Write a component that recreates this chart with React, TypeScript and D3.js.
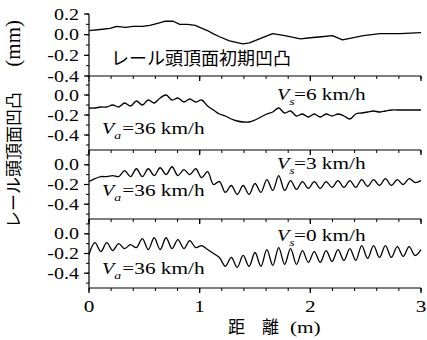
import * as d3 from 'd3'

// distance axis (m)
const xTicks = [0, 1, 2, 3]
const xMinorStep = 0.2

// panel 1: initial rail head irregularity, read as (x, value) pairs
const initialX = [0, 0.10, 0.19, 0.25, 0.33, 0.40, 0.48, 0.55, 0.62, 0.69, 0.76, 0.82, 0.89, 0.96, 1.00, 1.07, 1.12, 1.18, 1.27, 1.39, 1.45, 1.54, 1.66, 1.77, 1.91, 2.00, 2.10, 2.20, 2.29, 2.38, 2.48, 2.63, 2.81, 3.00]
const initialY = [0.04, 0.05, 0.06, 0.08, 0.07, 0.08, 0.08, 0.09, 0.11, 0.13, 0.13, 0.10, 0.10, 0.09, 0.07, 0.04, 0.01, -0.02, -0.06, -0.09, -0.08, -0.04, 0.01, -0.01, -0.04, -0.03, -0.02, -0.01, -0.05, -0.03, -0.01, 0.01, 0.01, 0.02]

// panels 2-4 are read every 3/56 m (one point per half wave)
const SAMPLE_STEP = 3 / 56

const vs6 = [-0.13, -0.13, -0.12, -0.12, -0.10, -0.12, -0.08, -0.11, -0.06, -0.10, -0.05, -0.08, -0.03, 0.00, -0.05, -0.03, -0.07, -0.04, -0.07, -0.05,
  -0.11, -0.15, -0.19, -0.21, -0.24, -0.26, -0.27, -0.27, -0.25, -0.22, -0.19, -0.17, -0.13, -0.18, -0.16, -0.21, -0.19, -0.22, -0.19, -0.22,
  -0.19, -0.21, -0.19, -0.21, -0.24, -0.19, -0.18, -0.17, -0.16, -0.17, -0.16, -0.15, -0.15, -0.15, -0.15, -0.15, -0.15]

const vs3 = [-0.17, -0.14, -0.12, -0.12, -0.11, -0.12, -0.06, -0.12, -0.04, -0.12, -0.04, -0.11, -0.03, -0.10, -0.02, -0.11, -0.05, -0.10, -0.04, -0.13,
  -0.07, -0.20, -0.17, -0.28, -0.21, -0.30, -0.21, -0.30, -0.19, -0.28, -0.15, -0.26, -0.11, -0.26, -0.16, -0.25, -0.17, -0.24, -0.17, -0.24,
  -0.17, -0.23, -0.16, -0.23, -0.16, -0.23, -0.15, -0.22, -0.15, -0.21, -0.14, -0.21, -0.15, -0.20, -0.14, -0.18, -0.16]

const vs0 = [-0.21, -0.09, -0.18, -0.09, -0.17, -0.10, -0.15, -0.11, -0.14, -0.05, -0.16, -0.04, -0.16, -0.04, -0.15, -0.06, -0.15, -0.07, -0.14, -0.12,
  -0.16, -0.20, -0.24, -0.33, -0.24, -0.34, -0.22, -0.33, -0.19, -0.33, -0.16, -0.32, -0.14, -0.31, -0.15, -0.31, -0.17, -0.29, -0.18, -0.29,
  -0.17, -0.28, -0.16, -0.27, -0.15, -0.27, -0.12, -0.25, -0.12, -0.24, -0.12, -0.24, -0.13, -0.23, -0.13, -0.22, -0.16]

const yTicksTop = [0.2, 0.0, -0.2, -0.4]
const yTicks = [0.0, -0.2, -0.4]

const SERIF = 'Liberation Serif, DejaVu Serif, serif'
const CJK = 'Noto Sans CJK JP, sans-serif'
const SX = 1.25 // the scan is stretched sideways

const x = d3.scaleLinear().domain([0, 3]).range([89, 421])

interface Panel {
  xs: number[]
  ys: number[]
  domain: [number, number]
  range: [number, number]
  ticks: number[]
  smooth: boolean
  vs?: string
  vsY?: number
  vaY?: number
}

const sampleX = (ys: number[]) => ys.map((_, i) => i * SAMPLE_STEP)

const panels: Panel[] = [
  { xs: initialX, ys: initialY, domain: [-0.4, 0.2], range: [76, 14], ticks: yTicksTop, smooth: false },
  { xs: sampleX(vs6), ys: vs6, domain: [-0.55, 0.15], range: [150, 80], ticks: yTicks, smooth: true, vs: '6', vsY: 100, vaY: 134 },
  { xs: sampleX(vs3), ys: vs3, domain: [-0.55, 0.15], range: [219, 150], ticks: yTicks, smooth: true, vs: '3', vsY: 169, vaY: 196 },
  { xs: sampleX(vs0), ys: vs0, domain: [-0.55, 0.15], range: [288, 219], ticks: yTicks, smooth: true, vs: '0', vsY: 241, vaY: 274 },
]

function SText({ x, y, size, anchor = 'start', children }: any) {
  return (
    <g transform={`translate(${x},${y}) scale(${SX},1)`}>
      <text fontFamily={SERIF} fontSize={size} textAnchor={anchor} fill="#000">
        {children}
      </text>
    </g>
  )
}

function SpeedLabel({ x0, y0, sub, value }: { x0: number; y0: number; sub: string; value: string }) {
  return (
    <SText x={x0} y={y0} size={17}>
      <tspan fontStyle="italic" fontSize={16}>V</tspan>
      <tspan fontStyle="italic" fontSize={11} dy={5}>{sub}</tspan>
      <tspan dy={-5} dx={sub === 'a' ? 1 : -0.5}>{`=${value} km/h`}</tspan>
    </SText>
  )
}

function PanelView({ p }: { p: Panel }) {
  const y = d3.scaleLinear().domain(p.domain).range(p.range)
  const line = d3.line<number>()
    .x((_, i) => x(p.xs[i]))
    .y(d => y(d))
    .curve(p.smooth ? d3.curveCatmullRom.alpha(0.5) : d3.curveLinear)
  const minor = d3.range(Math.ceil(p.domain[0] * 10 - 1e-6), Math.floor(p.domain[1] * 10 + 1e-6) + 1).map(v => v / 10)
  const xMinor = d3.range(0, 3 + 1e-6, xMinorStep)
  const yb = p.range[0]
  return (
    <g>
      {/* left axis */}
      <line x1={x(0)} x2={x(0)} y1={p.range[1]} y2={yb} stroke="#000" strokeWidth={1.2} />
      {minor.map(v => (
        <line key={'m' + v} x1={x(0) - 3} x2={x(0)} y1={y(v)} y2={y(v)} stroke="#000" strokeWidth={1} />
      ))}
      {p.ticks.map(v => (
        <g key={'t' + v}>
          <line x1={x(0) - 5} x2={x(0)} y1={y(v)} y2={y(v)} stroke="#000" strokeWidth={1.2} />
          <SText x={79} y={y(v) + 5.5} size={16} anchor="end">{v.toFixed(1)}</SText>
        </g>
      ))}
      {/* bottom axis */}
      <line x1={x(0)} x2={x(3)} y1={yb} y2={yb} stroke="#000" strokeWidth={1.2} />
      {xMinor.map(v => (
        <line key={'xm' + v} x1={x(v)} x2={x(v)} y1={yb} y2={yb + 3} stroke="#000" strokeWidth={1} />
      ))}
      {xTicks.map(v => (
        <line key={'xt' + v} x1={x(v)} x2={x(v)} y1={yb} y2={yb + 5} stroke="#000" strokeWidth={1.3} />
      ))}
      <path d={line(p.ys) ?? ''} fill="none" stroke="#000" strokeWidth={1.3} strokeLinejoin="round" />
      {p.vs !== undefined && (
        <>
          <SpeedLabel x0={277} y0={p.vsY!} sub="s" value={p.vs} />
          <SpeedLabel x0={102} y0={p.vaY!} sub="a" value="36" />
        </>
      )}
    </g>
  )
}

export default function App() {
  const bottom = panels[panels.length - 1].range[0]
  return (
    <svg width={427} height={340} style={{ position: 'fixed', left: 0, top: 0, background: '#fff' }}>
      <rect width={427} height={340} fill="#fff" />
      {panels.map((p, i) => <PanelView key={i} p={p} />)}
      <text x={111} y={65} fontFamily={CJK} fontSize={18} fill="#000">レール頭頂面初期凹凸</text>
      {xTicks.map(v => (
        <SText key={v} x={x(v)} y={bottom + 24} size={17} anchor="middle">{String(v)}</SText>
      ))}
      <text y={333} fontFamily={CJK} fontSize={17} fill="#000">
        <tspan x={228}>距</tspan>
        <tspan x={262}>離</tspan>
      </text>
      <SText x={290} y={333} size={17}>(m)</SText>
      <g transform="translate(20,228) rotate(-90)">
        <text fontFamily={CJK} fontSize={17} fill="#000">レール頭頂面凹凸</text>
      </g>
      <g transform="translate(20,20) rotate(-90)">
        <text fontFamily={SERIF} fontSize={21} textAnchor="end" fill="#000">(mm)</text>
      </g>
    </svg>
  )
}
